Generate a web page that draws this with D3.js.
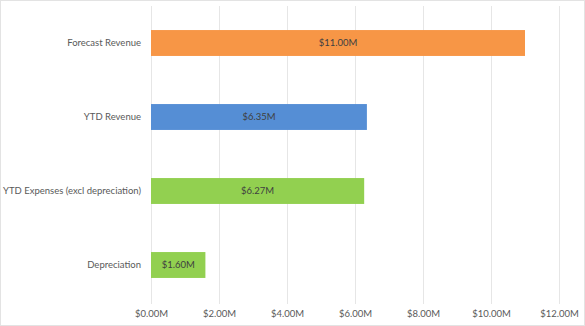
<!DOCTYPE html>
<html><head><meta charset="utf-8">
<script src="https://cdn.jsdelivr.net/npm/d3@7"></script>
<style>body{margin:0;background:#fff}svg{display:block}</style>
</head><body>
<svg id="c" width="585" height="326"></svg>
<script>
const categories = ["Forecast Revenue", "YTD Revenue", "YTD Expenses (excl depreciation)", "Depreciation"];
const values = [11.00, 6.35, 6.27, 1.60];
const colors = ["#F79646", "#558ED5", "#92D050", "#92D050"];
const tickValues = [0, 2, 4, 6, 8, 10, 12];

const svg = d3.select("#c");
const W = 585, H = 326;
const m = {left: 151, right: 26, top: 6, bottom: 24};
const font = "Lato, 'Open Sans', sans-serif";

svg.append("rect").attr("x",0.5).attr("y",0.5).attr("width",W-1).attr("height",H-1)
  .attr("fill","#fff").attr("stroke","#e3e3e3");

const x = d3.scaleLinear().domain([0,12]).range([m.left, W - m.right]);
const y = d3.scaleBand().domain(categories).range([m.top, H - m.bottom]).paddingInner(0.65).paddingOuter(0.325);

const fmt = v => "$" + d3.format(".2f")(v) + "M";

// gridlines
svg.append("g").selectAll("line").data(tickValues).join("line")
  .attr("x1", d => Math.round(x(d)) + 0.5).attr("x2", d => Math.round(x(d)) + 0.5)
  .attr("y1", m.top).attr("y2", H - m.bottom + 2)
  .attr("stroke", "#e6e6e6").attr("stroke-width", 1);

// x axis
const xa = svg.append("g").attr("transform", `translate(0,${H - m.bottom})`)
  .call(d3.axisBottom(x).tickValues(tickValues).tickFormat(fmt).tickSize(0).tickPadding(8));
xa.select(".domain").remove();
xa.selectAll("text").attr("fill","#595959").attr("font-family",font).attr("font-size","9.5px");

// y axis
const ya = svg.append("g").attr("transform", `translate(${m.left - 10},0)`)
  .call(d3.axisLeft(y).tickSize(0).tickPadding(0));
ya.select(".domain").remove();
ya.selectAll("text").attr("fill","#595959").attr("font-family",font).attr("font-size","9.5px");

// bars
const data = categories.map((c,i) => ({c, v: values[i], col: colors[i]}));
svg.append("g").selectAll("rect").data(data).join("rect")
  .attr("x", x(0)).attr("y", d => y(d.c))
  .attr("width", d => x(d.v) - x(0)).attr("height", y.bandwidth())
  .attr("fill", d => d.col);

// labels
svg.append("g").selectAll("text").data(data).join("text")
  .attr("x", d => (x(0) + x(d.v)) / 2).attr("y", d => y(d.c) + y.bandwidth()/2)
  .attr("dy","0.35em").attr("text-anchor","middle")
  .attr("fill","#404040").attr("font-family",font).attr("font-size","9.5px")
  .text(d => fmt(d.v));
</script>
</body></html>
